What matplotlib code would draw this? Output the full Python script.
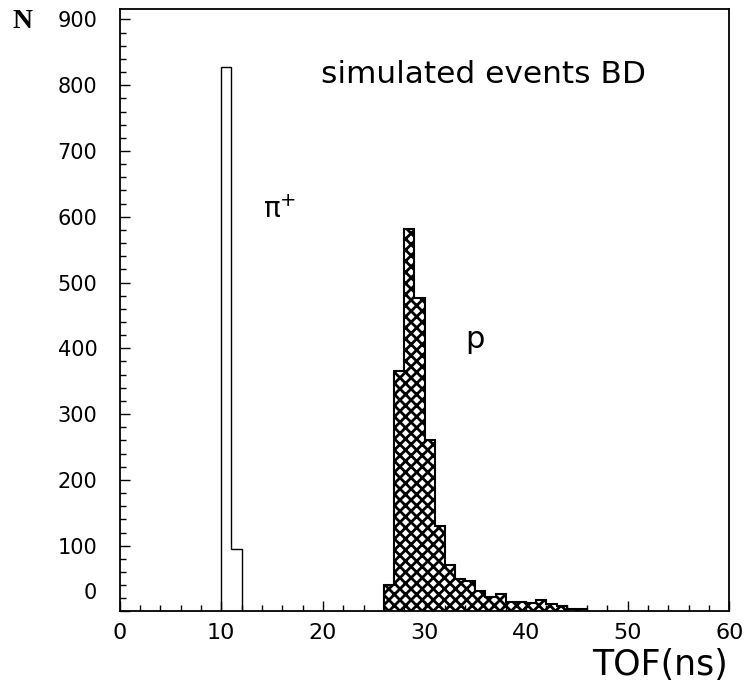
import numpy as np
import matplotlib
matplotlib.use("Agg")
import matplotlib.pyplot as plt
import matplotlib.transforms as mtransforms
from matplotlib.ticker import MultipleLocator

# pi+ peak, 1 ns bins starting at 10 ns
pion_start = 10
pion_counts = [827, 95]

# proton peak, 1 ns bins starting at 26 ns
proton_start = 26
proton_counts = [40, 365, 582, 477, 261, 130, 70, 50, 46, 31,
                 22, 26, 15, 14, 13, 18, 12, 8, 4, 3]

x_ticks = [0, 10, 20, 30, 40, 50, 60]
y_ticks = [0, 100, 200, 300, 400, 500, 600, 700, 800, 900]

bin_width = 1.0
pion_edges = pion_start + bin_width * np.arange(len(pion_counts) + 1)
proton_edges = proton_start + bin_width * np.arange(len(proton_counts) + 1)

plt.rcParams['font.family'] = ['DejaVu Sans']
plt.rcParams['hatch.linewidth'] = 2.0

fig = plt.figure(figsize=(7.52, 6.87), dpi=100)
ax = fig.add_axes([0.159, 0.110, 0.811, 0.877])

ax.stairs(pion_counts, pion_edges, fill=False, color='black', linewidth=1.0)
ax.stairs(proton_counts, proton_edges, fill=True, facecolor='white',
          edgecolor='black', hatch='xxx', linewidth=1.5)

ax.set_xlim(0, 60)
ax.set_ylim(0, 916)
ax.set_xticks(x_ticks)
ax.set_yticks(y_ticks)
ax.xaxis.set_minor_locator(MultipleLocator(2))
ax.yaxis.set_minor_locator(MultipleLocator(20))
ax.tick_params(which='both', direction='in', top=False, right=False, width=1.0)
ax.tick_params(which='major', length=7)
ax.tick_params(which='minor', length=4)
ax.tick_params(axis='y', labelsize=15, pad=16)
ax.tick_params(axis='x', labelsize=16, pad=8)
for s in ax.spines.values():
    s.set_linewidth(1.3)

# the y "0" sits higher so it does not hit the x "0"
lab0 = ax.get_yticklabels()[0]
lab0.set_transform(lab0.get_transform() +
                   mtransforms.ScaledTranslation(0, 15 / 72, fig.dpi_scale_trans))

ax.text(19.8, 816, 'simulated events BD', fontsize=22.5, va='center', ha='left')
ax.text(14.1, 611, r'$\mathrm{\pi}^{+}$', fontsize=20, va='center', ha='left')
ax.text(34.0, 413, 'p', fontsize=22, va='center', ha='left')

fig.text(0.016, 0.968, 'N', fontsize=20, family='Liberation Serif',
         fontweight='bold', va='center', ha='left')
fig.text(0.968, 0.032, 'TOF(ns)', fontsize=25, va='center', ha='right')

fig.savefig('out.png', dpi=100)
